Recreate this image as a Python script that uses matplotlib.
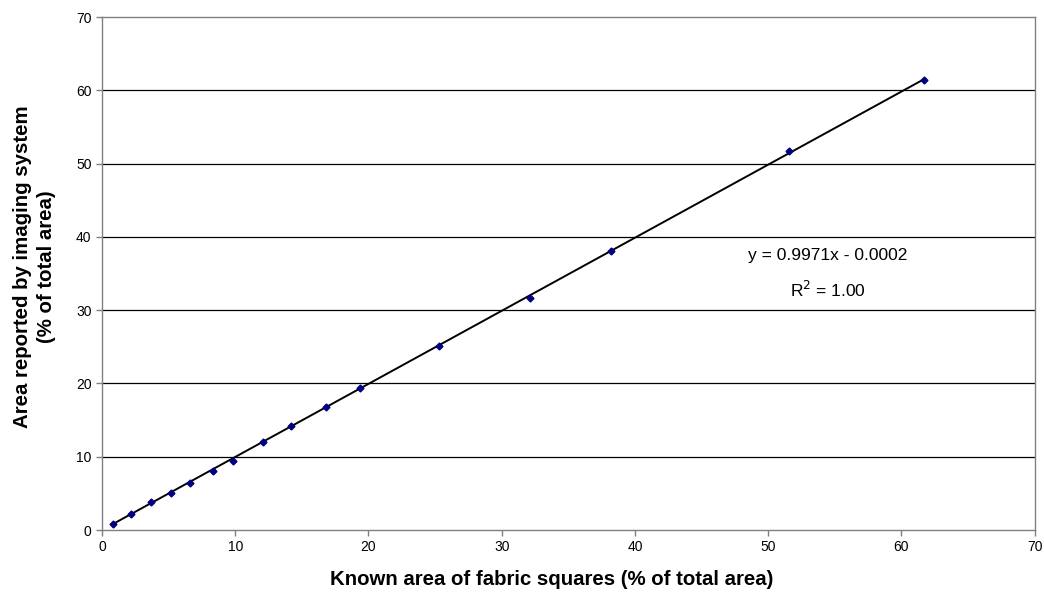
import matplotlib
matplotlib.use('Agg')
import matplotlib.pyplot as plt
import numpy as np

plt.rcParams['font.family'] = ['Liberation Sans', 'DejaVu Sans']

# known vs reported area (% of total area)
known = [0.8, 2.2, 3.7, 5.2, 6.6, 8.3, 9.8, 12.1, 14.2, 16.8, 19.4, 25.3, 32.1, 38.2, 51.6, 61.7]
reported = [0.8, 2.2, 3.8, 5.1, 6.4, 8.1, 9.4, 12.0, 14.2, 16.8, 19.4, 25.1, 31.7, 38.1, 51.7, 61.4]
slope = 0.9971
intercept = -0.0002
ticks = [0, 10, 20, 30, 40, 50, 60, 70]

fig = plt.figure(figsize=(10.44, 5.94), dpi=100)
ax = fig.add_axes([0.0977, 0.1077, 0.8933, 0.8636])

for t in ticks[1:-1]:
    ax.axhline(t, color='black', lw=0.9, zorder=1)

xs = np.array([min(known), max(known)])
ax.plot(xs, slope * xs + intercept, color='black', lw=1.4, zorder=2)
ax.plot(known, reported, linestyle='none', marker='D', ms=3.5,
        color='#000080', zorder=3)

ax.set_xlim(0, 70)
ax.set_ylim(0, 70)
ax.set_xticks(ticks)
ax.set_yticks(ticks)
ax.tick_params(direction='out', length=4, width=1, colors='#808080',
               labelcolor='black', labelsize=10)
for s in ax.spines.values():
    s.set_color('#808080')
    s.set_linewidth(1)

ax.set_xlabel('Known area of fabric squares (% of total area)',
              fontsize=14.7, fontweight='bold')
ax.xaxis.set_label_coords(0.482, -0.078)
ax.set_ylabel('Area reported by imaging system\n(% of total area)',
              fontsize=14.7, fontweight='bold', linespacing=1.35)
ax.yaxis.set_label_coords(-0.049, 0.513)

ax.text(54.5, 37.4, 'y = 0.9971x - 0.0002', fontsize=12.5, ha='center', va='center')
ax.text(54.5, 32.7, r'R$^2$ = 1.00', fontsize=12.5, ha='center', va='center')

fig.savefig('out.png', dpi=100)
